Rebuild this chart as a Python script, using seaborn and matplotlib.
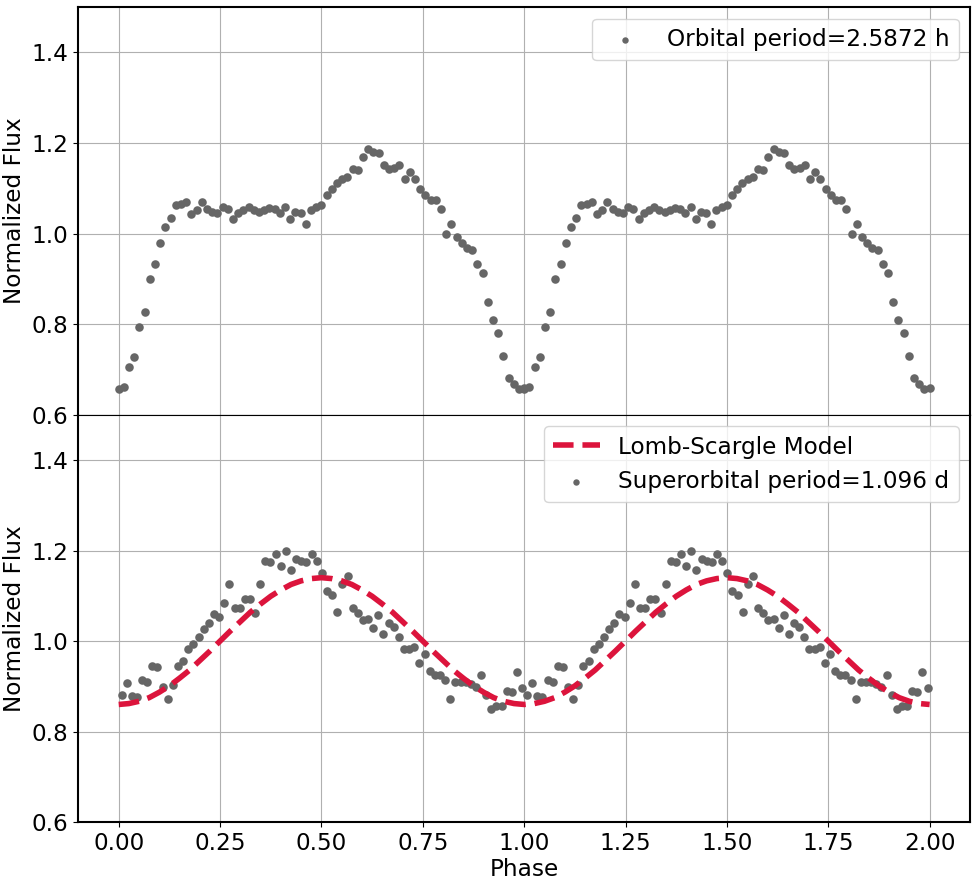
import numpy as np
import seaborn as sns
import matplotlib
matplotlib.use('Agg')
import matplotlib.pyplot as plt

# Folded light curve, orbital period (one cycle, repeated for phase 1-2)
orb_phase = np.linspace(0, 1, 79)
orb_flux = [0.657, 0.662, 0.706, 0.727, 0.793, 0.826, 0.899, 0.932, 0.980, 1.015,
            1.035, 1.062, 1.066, 1.070, 1.044, 1.051, 1.070, 1.055, 1.048, 1.046,
            1.059, 1.055, 1.033, 1.046, 1.053, 1.059, 1.051, 1.048, 1.053, 1.057,
            1.055, 1.046, 1.059, 1.033, 1.048, 1.046, 1.020, 1.053, 1.059,
            1.064, 1.084, 1.099, 1.112, 1.121, 1.125, 1.143, 1.141, 1.169, 1.187,
            1.180, 1.178, 1.152, 1.143, 1.145, 1.152, 1.121, 1.136, 1.121, 1.099,
            1.084, 1.075, 1.075, 1.055, 1.000, 1.020, 0.993, 0.980, 0.969, 0.963,
            0.932, 0.912, 0.848, 0.809, 0.780, 0.730, 0.681, 0.668, 0.657, 0.659]

# Folded light curve, superorbital period
sup_phase = np.linspace(0.007, 0.995, 79)
sup_flux = [0.882, 0.907, 0.878, 0.876, 0.915, 0.909, 0.944, 0.942, 0.898, 0.871,
            0.902, 0.946, 0.955, 0.982, 0.993, 1.010, 1.026, 1.039, 1.059, 1.054,
            1.085, 1.127, 1.074, 1.074, 1.092, 1.094, 1.061, 1.125, 1.176, 1.174,
            1.193, 1.165, 1.200, 1.156, 1.182, 1.176, 1.174, 1.193, 1.176, 1.151,
            1.110, 1.101, 1.065, 1.127, 1.143, 1.072, 1.061, 1.046, 1.048, 1.028,
            1.057, 1.015, 1.039, 1.032, 1.008, 0.982, 0.982, 0.988, 0.951, 0.971,
            0.933, 0.926, 0.926, 0.913, 0.871, 0.909, 0.909, 0.909, 0.905, 0.898,
            0.924, 0.882, 0.851, 0.856, 0.856, 0.889, 0.887, 0.931, 0.896]

# Lomb-Scargle model read at steps of 0.025 in phase (one cycle)
model_phase = np.linspace(0, 1, 41)
model_flux = [0.860, 0.862, 0.867, 0.875, 0.887, 0.901, 0.918, 0.936, 0.957, 0.978,
              1.000, 1.022, 1.043, 1.064, 1.082, 1.099, 1.113, 1.125, 1.133, 1.138,
              1.140, 1.138, 1.133, 1.125, 1.113, 1.099, 1.082, 1.064, 1.043, 1.022,
              1.000, 0.978, 0.957, 0.936, 0.918, 0.901, 0.887, 0.875, 0.867, 0.862,
              0.860]

xticks = [0.00, 0.25, 0.50, 0.75, 1.00, 1.25, 1.50, 1.75, 2.00]
yticks = [0.6, 0.8, 1.0, 1.2, 1.4]

fs = 16.7
pt_color = '#666666'

fig, (ax1, ax2) = plt.subplots(2, 1, figsize=(9.77, 8.86), dpi=100, sharex=True)
fig.subplots_adjust(left=0.08, right=0.993, top=0.992, bottom=0.072, hspace=0)

# top panel
x1 = np.concatenate([orb_phase, orb_phase + 1])
y1 = np.concatenate([orb_flux, orb_flux])
sns.scatterplot(x=x1, y=y1, ax=ax1, color=pt_color, s=38, linewidth=0,
                label='Orbital period=2.5872 h')

# bottom panel
xm = np.concatenate([model_phase, model_phase[1:] + 1])
ym = np.concatenate([model_flux, model_flux[1:]])
sns.lineplot(x=xm, y=ym, ax=ax2, color='crimson', lw=4, linestyle='--',
             label='Lomb-Scargle Model')
x2 = np.concatenate([sup_phase, sup_phase + 1])
y2 = np.concatenate([sup_flux, sup_flux])
sns.scatterplot(x=x2, y=y2, ax=ax2, color=pt_color, s=38, linewidth=0,
                label='Superorbital period=1.096 d')

for ax in (ax1, ax2):
    ax.set_ylim(0.6, 1.5)
    ax.set_yticks(yticks)
    ax.set_xlim(-0.1, 2.1)
    ax.set_xticks(xticks)
    ax.grid(True, color='#b0b0b0', lw=0.8)
    ax.set_axisbelow(True)
    ax.tick_params(labelsize=fs)
    ax.set_ylabel('Normalized Flux', fontsize=fs)
    for s in ax.spines.values():
        s.set_linewidth(1.5)
    ax.legend(loc='upper right', fontsize=fs, markerscale=0.75)

ax1.spines['bottom'].set_linewidth(0.8)
ax2.spines['top'].set_linewidth(0.8)
ax2.set_xlabel('Phase', fontsize=fs, labelpad=2)
ax2.set_xticklabels(['%.2f' % t for t in xticks])

fig.savefig('out.png', dpi=100)
